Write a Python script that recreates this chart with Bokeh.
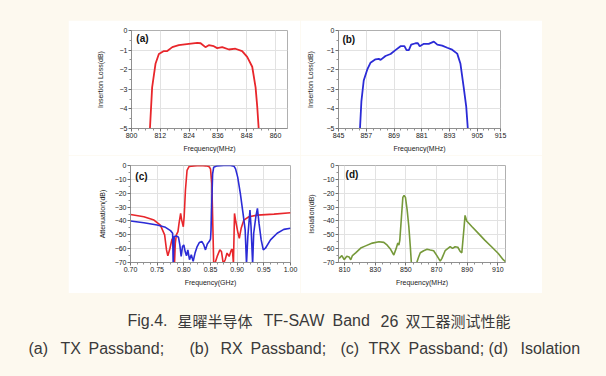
from bokeh.plotting import figure
from bokeh.layouts import column, row
from bokeh.models import Spacer, FixedTicker, Range1d, Label, NumeralTickFormatter
from bokeh.core.properties import value
from bokeh.embed import file_html
from bokeh.resources import INLINE

# ---------------- data ----------------
# (a) TX passband (MHz, dB)
tx_f = [807.6, 808.6, 810.0, 811.4, 813.5, 814.9, 817.0, 819.7, 823.9, 827.4, 828.8, 830.8,
        832.2, 834.3, 835.7, 837.8, 840.6, 843.3, 846.1, 848.2, 850.3, 851.7, 852.4, 853.1]
tx_db = [-5.2, -2.9, -1.7, -1.2, -1.05, -1.05, -0.85, -0.75, -0.68, -0.63, -0.65, -0.85,
         -0.75, -0.8, -0.9, -0.85, -0.97, -0.93, -1.05, -1.35, -1.85, -2.9, -3.9, -5.2]

# (b) RX passband (MHz, dB)
rx_f = [854.2, 854.9, 855.9, 857.4, 858.8, 861.0, 862.4, 863.2, 865.3, 867.5, 869.6, 871.8,
        873.5, 874.4, 875.4, 876.4, 878.3, 879.3, 880.1, 881.9, 884.0, 886.2, 887.7, 889.8,
        892.0, 894.1, 896.3, 897.7, 899.1, 900.2, 901.0]
rx_db = [-5.2, -3.6, -2.55, -2.0, -1.65, -1.47, -1.45, -1.5, -1.3, -1.2, -1.0, -0.8,
         -0.8, -1.0, -1.0, -0.72, -0.65, -0.65, -0.8, -0.68, -0.68, -0.57, -0.72, -0.77,
         -0.88, -0.98, -1.18, -1.7, -2.9, -3.9, -5.2]

# (c) TRX passband (GHz, dB)
trx_tx_f = [0.700, 0.725, 0.744, 0.756, 0.764, 0.7675, 0.770, 0.774, 0.7775, 0.780, 0.781, 0.7825,
            0.784, 0.786, 0.789, 0.791, 0.794, 0.796, 0.799, 0.8006, 0.803, 0.806, 0.810, 0.819,
            0.831, 0.841, 0.847, 0.850, 0.8525, 0.854, 0.856, 0.858, 0.8625, 0.8675, 0.8706,
            0.874, 0.8775, 0.881, 0.885, 0.889, 0.891, 0.893, 0.895, 0.8975, 0.901, 0.904,
            0.9075, 0.9125, 0.922, 0.9375, 0.969, 1.0]
trx_tx_db = [-35.3, -37.0, -39.4, -43.0, -50.1, -60.9, -65.2, -59.7, -53.7, -51.8, -58.5, -71,
             -56.1, -50.1, -47.7, -41.8, -34.6, -39.4, -44.2, -37.0, -17.9, -3.6, -0.7, -0.24,
             0.0, -0.24, -0.7, -2.4, -13.1, -37.0, -71, -71, -65.6, -60.9, -62.1,
             -71, -68.0, -63.2, -65.6, -60.9, -60.4, -71, -34.6, -40.6, -47.7, -52.5,
             -45.3, -39.4, -37.0, -35.8, -35.1, -34.1]
trx_rx_f = [0.700, 0.725, 0.750, 0.7656, 0.775, 0.779, 0.780, 0.782, 0.786, 0.790, 0.7925, 0.795,
            0.7975, 0.800, 0.8025, 0.805, 0.8075, 0.8106, 0.814, 0.8175, 0.821, 0.825, 0.829,
            0.834, 0.8375, 0.8406, 0.844, 0.8475, 0.850, 0.851, 0.8525, 0.854, 0.856, 0.8625,
            0.875, 0.8875, 0.894, 0.897, 0.901, 0.906, 0.911, 0.915, 0.9175, 0.920, 0.9225,
            0.924, 0.926, 0.929, 0.931, 0.935, 0.938, 0.941, 0.945, 0.949, 0.953, 0.9625,
            0.975, 0.9875, 1.0]
trx_rx_db = [-40.1, -41.3, -43.0, -44.6, -47.0, -48.9, -71, -51.3, -50.8, -51.8, -57.3, -65.6,
             -58.5, -57.3, -62.1, -65.2, -60.9, -68.0, -64.4, -69.2, -63.2, -58.5, -55.6,
             -54.9, -57.3, -60.9, -56.6, -54.9, -53.2, -46.5, -25.1, -6.0, -1.2, -0.24,
             0.0, 0.0, -0.5, -2.4, -8.4, -20.3, -34.6, -46.5, -71, -51.3, -39.4,
             -32.2, -44.2, -71, -48.9, -37.0, -31.0, -41.8, -53.7, -60.9, -59.7, -53.7,
             -48.9, -46.1, -45.3]

# (d) Isolation (MHz, dB) - two visible segments
iso_f1 = [806.4, 808.2, 809.7, 811.4, 812.9, 814.0, 815.1, 817.2, 820.5, 823.7, 828.1, 832.4,
          835.6, 837.8, 840.0, 842.1, 843.6, 844.7, 845.4, 846.0, 847.1, 848.0, 848.8, 849.7,
          850.8, 851.9, 852.9, 853.6]
iso_db1 = [-67, -65, -68, -65.5, -66, -68, -65, -63, -59.6, -58, -56, -55,
           -55.5, -57.5, -60.5, -64.6, -60, -56, -57.5, -54, -37, -23, -21.6, -23,
           -32, -44, -59, -71]
iso_f2 = [856.8, 858.3, 859.4, 861.6, 863.8, 865.9, 868.1, 870.2, 872.4, 873.5, 875.6, 878.9,
          880.4, 882.1, 883.9, 885.4, 886.5, 888.0, 888.6, 889.7, 893.0, 897.3, 901.6, 905.9,
          910.3, 913.5, 915.0]
iso_db2 = [-71, -66, -63, -61.5, -60.5, -61, -61.5, -65, -69, -67, -61.5, -58.6,
           -59.8, -58.6, -59, -62, -63, -44, -36, -40, -44, -49, -54, -58.6,
           -63.5, -68, -69.4]

a_xticks = [800, 812, 824, 836, 848, 860]
b_xticks = [845, 857, 869, 881, 893, 905, 915]
c_xticks = [0.70, 0.75, 0.80, 0.85, 0.90, 0.95, 1.00]
d_xticks = [810, 830, 850, 870, 890, 910]
il_yticks = [0, -1, -2, -3, -4, -5]
att_yticks = [0, -10, -20, -30, -40, -50, -60, -70]

caption1 = [("Fig.4.", 127, "latin"), ("星曜半导体", 177, "cjk"), ("TF-SAW", 263, "latin"),
            ("Band", 332, "latin"), ("26", 380, "latin"), ("双工器测试性能", 405, "cjk")]
caption2 = [("(a)", 28), ("TX", 60), ("Passband;", 88), ("(b)", 189), ("RX", 220),
            ("Passband;", 250), ("(c)", 340), ("TRX", 368), ("Passband;", 408),
            ("(d)", 488), ("Isolation", 520)]

# ---------------- styling ----------------
CREAM = "#fdf9ef"
FONT = "Liberation Sans"
RED = "#e8262b"
BLUE = "#2b2bd6"
GREEN = "#76993a"


def minor(ticks, n):
    out = []
    for a, b in zip(ticks[:-1], ticks[1:]):
        for k in range(1, n):
            out.append(a + (b - a) * k / n)
    return out


def panel(w, h, xr, yr, bl, br, bt, bb, xticks, yticks, xlabel, ylabel, ylstand):
    p = figure(width=w, height=h, x_range=Range1d(*xr), y_range=Range1d(*yr),
               output_backend="svg", toolbar_location=None,
               min_border_left=bl, min_border_right=br, min_border_top=bt, min_border_bottom=bb)
    p.border_fill_color = "white"
    p.background_fill_color = "white"
    p.outline_line_color = "#b0b0b0"
    p.xaxis.ticker = FixedTicker(ticks=xticks, minor_ticks=minor(xticks, 4))
    p.yaxis.ticker = FixedTicker(ticks=yticks, minor_ticks=minor(yticks, 2))
    p.grid.grid_line_color = "#e2e2e2"
    p.grid.grid_line_width = 1
    for ax in p.axis:
        ax.axis_line_color = "#909090"
        ax.major_tick_line_color = "#707070"
        ax.minor_tick_line_color = "#909090"
        ax.major_tick_in = 0
        ax.major_tick_out = 3
        ax.minor_tick_in = 0
        ax.minor_tick_out = 2
        ax.major_label_text_font = FONT
        ax.major_label_text_font_size = "7px"
        ax.major_label_text_color = "#1a1a1a"
        ax.major_label_standoff = 1
        ax.axis_label_text_font = FONT
        ax.axis_label_text_font_size = "7px"
        ax.axis_label_text_font_style = "normal"
        ax.axis_label_text_color = "#1a1a1a"
    p.xaxis.axis_label = xlabel
    p.yaxis.axis_label = ylabel
    p.xaxis.axis_label_standoff = 4
    p.yaxis.axis_label_standoff = ylstand
    return p


def tag(p, x, y, t):
    p.add_layout(Label(x=x, y=y, text=t, text_font=FONT, text_font_size="10px",
                       text_font_style="bold", text_color="#111111", text_baseline="middle"))


pa = panel(232, 135, (800, 865), (-5, 0), 63, 13, 10, 27, a_xticks, il_yticks,
           "Frequency(MHz)", "Insertion Loss(dB)", 13)
pa.line(tx_f, tx_db, line_color=RED, line_width=1.8)
tag(pa, 802, -0.42, "(a)")

pb = panel(242, 135, (845, 915), (-5, 0), 38, 42, 10, 27, b_xticks, il_yticks,
           "Frequency(MHz)", "Insertion Loss(dB)", 10)
pb.line(rx_f, rx_db, line_color=BLUE, line_width=1.8)
tag(pb, 846.7, -0.45, "(b)")

pc = panel(232, 138, (0.70, 1.00), (-70, 0), 62, 10, 10, 31, c_xticks, att_yticks,
           "Frequency(GHz)", "Attenuation(dB)", 6)
pc.xaxis.formatter = NumeralTickFormatter(format="0.00")
pc.line(trx_tx_f, trx_tx_db, line_color=RED, line_width=1.6)
pc.line(trx_rx_f, trx_rx_db, line_color=BLUE, line_width=1.6)
tag(pc, 0.709, -7.9, "(c)")

pd = panel(242, 138, (806, 915), (-70, 0), 38, 37, 10, 31, d_xticks, att_yticks,
           "Frequency(MHz)", "Isolation(dB)", 5)
pd.line(iso_f1, iso_db1, line_color=GREEN, line_width=1.6)
pd.line(iso_f2, iso_db2, line_color=GREEN, line_width=1.6)
tag(pd, 810.6, -6.4, "(d)")

cap = figure(width=606, height=83, x_range=Range1d(0, 606), y_range=Range1d(0, 83),
             output_backend="svg", toolbar_location=None,
             x_axis_location=None, y_axis_location=None,
             min_border_left=0, min_border_right=0, min_border_top=0, min_border_bottom=0)
cap.border_fill_color = CREAM
cap.background_fill_color = CREAM
cap.outline_line_color = None
cap.grid.visible = False
lat = [c for c in caption1 if c[2] == "latin"]
cjk = [c for c in caption1 if c[2] == "cjk"]
cap.text(x=[c[1] for c in lat], y=[56] * len(lat), text=[c[0] for c in lat],
         text_font=value(FONT), text_font_size="16px", text_color="#3a3a3a",
         text_align="left", text_baseline="middle")
cap.text(x=[c[1] for c in cjk], y=[56] * len(cjk), text=[c[0] for c in cjk],
         text_font=value("Noto Sans CJK SC"), text_font_size="15px", text_color="#3a3a3a",
         text_align="left", text_baseline="middle")
cap.text(x=[c[1] for c in caption2], y=[28] * len(caption2), text=[c[0] for c in caption2],
         text_font=value(FONT), text_font_size="16px", text_color="#3a3a3a",
         text_align="left", text_baseline="middle")

top = Spacer(width=606, height=20)
r1 = row(Spacer(width=68, height=135), pa, pb, Spacer(width=64, height=135))
r2 = row(Spacer(width=68, height=138), pc, pd, Spacer(width=64, height=138))
layout = column(top, r1, r2, cap, styles={"background-color": CREAM})

open("out.html", "w").write(file_html(layout, INLINE))
